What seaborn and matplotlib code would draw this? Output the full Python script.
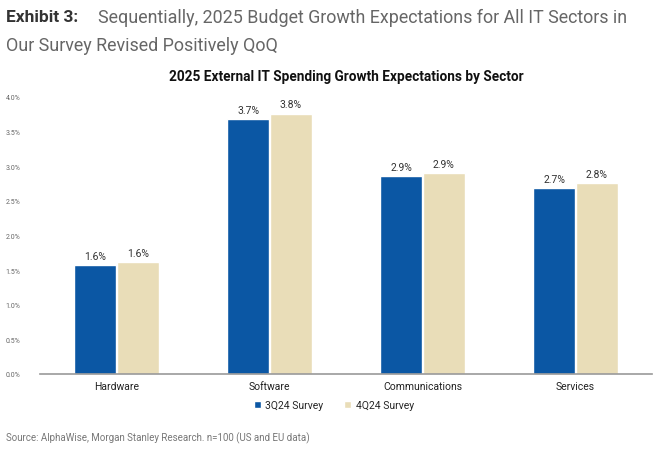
import numpy as np
import pandas as pd
import matplotlib.pyplot as plt
import seaborn as sns

sectors = ["Hardware", "Software", "Communications", "Services"]
surveys = ["3Q24 Survey", "4Q24 Survey"]
q3_values = [1.57, 3.68, 2.86, 2.69]
q4_values = [1.62, 3.76, 2.90, 2.76]
q3_labels = ["1.6%", "3.7%", "2.9%", "2.7%"]
q4_labels = ["1.6%", "3.8%", "2.9%", "2.8%"]
yticks = [0.0, 0.5, 1.0, 1.5, 2.0, 2.5, 3.0, 3.5, 4.0]

df = pd.DataFrame({
    "Sector": sectors * 2,
    "Survey": [surveys[0]] * 4 + [surveys[1]] * 4,
    "Growth": q3_values + q4_values,
})

sns.set_style("white")
plt.rcParams["font.family"] = ["Roboto", "DejaVu Sans"]

blue = "#0B57A4"
beige = "#E9DDB8"

fig = plt.figure(figsize=(6.6, 4.52), dpi=100)
ax = fig.add_axes([40 / 660, 1 - 375 / 452, 612 / 660, 277 / 452])

sns.barplot(data=df, x="Sector", y="Growth", hue="Survey",
            palette=[blue, beige], width=0.56, gap=0.01,
            saturation=1, ax=ax, legend=True)

for cont, labs in zip(ax.containers, [q3_labels, q4_labels]):
    ax.bar_label(cont, labels=labs, padding=3, fontsize=7.5, color="#333333")

ax.set_ylim(0, 4.0)
ax.set_xlim(-0.5, 3.5)
ax.set_yticks(yticks)
ax.set_yticklabels([f"{t:.1f}%" for t in yticks], fontsize=5, color="#666666")
ax.tick_params(axis="y", length=0, pad=14)
ax.tick_params(axis="x", length=0, labelsize=7.5, colors="#222222", pad=5)
ax.set_xlabel("")
ax.set_ylabel("")
for s in ["top", "right", "left"]:
    ax.spines[s].set_visible(False)
ax.spines["bottom"].set_color("#999999")
ax.spines["bottom"].set_linewidth(1.2)

ax.legend(loc="upper center", bbox_to_anchor=(0.48, -0.06), ncol=2,
          frameon=False, fontsize=7.5, handlelength=0.7, handleheight=0.7,
          columnspacing=2.0, handletextpad=0.4)

ax.set_title("2025 External IT Spending Growth Expectations by Sector",
             fontsize=9.8, fontweight="bold", color="#111111", pad=12)

fig.text(6 / 660, 1 - 18 / 452, "Exhibit 3:", fontsize=12.5, fontweight="bold",
         color="#333333", va="center", ha="left")
fig.text(98 / 660, 1 - 18 / 452,
         "Sequentially, 2025 Budget Growth Expectations for All IT Sectors in",
         fontsize=12.9, color="#666666", va="center", ha="left")
fig.text(6 / 660, 1 - 46 / 452, "Our Survey Revised Positively QoQ",
         fontsize=12.9, color="#666666", va="center", ha="left")
fig.text(6 / 660, 1 - 438 / 452,
         "Source: AlphaWise, Morgan Stanley Research. n=100 (US and EU data)",
         fontsize=7, color="#777777", va="center", ha="left")

fig.savefig("out.png", dpi=100)
